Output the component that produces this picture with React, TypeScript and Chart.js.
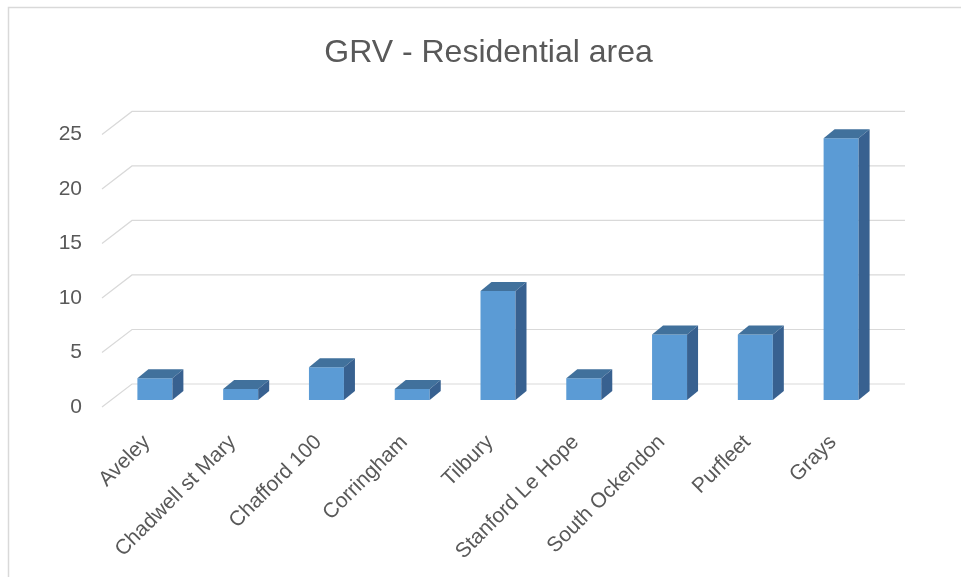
import React, { useEffect, useRef } from "react";
import { Chart, registerables } from "chart.js";

Chart.register(...registerables);

const categories = [
  "Aveley",
  "Chadwell st Mary",
  "Chafford 100",
  "Corringham",
  "Tilbury",
  "Stanford Le Hope",
  "South Ockendon",
  "Purfleet",
  "Grays",
];
const values = [2, 1, 3, 1, 10, 2, 6, 6, 24];
const yTicks = [0, 5, 10, 15, 20, 25];
const titleText = "GRV - Residential area";

const FONT = "'Liberation Sans', Arial, sans-serif";
const TEXT = "#595959";
const GRID = "#d9d9d9";
const FRONT = "#5b9bd5";
const TOP = "#41719c";
const SIDE = "#386190";

const DEPTH_X = 11;
const DEPTH_Y = -9;
const WALL_X = 30;
const WALL_Y = -16;
const FLOOR_Y = 7;

const framePlugin = {
  id: "frame",
  beforeDraw(chart: any) {
    const ctx = chart.ctx;
    ctx.save();
    ctx.strokeStyle = GRID;
    ctx.lineWidth = 1.5;
    ctx.beginPath();
    ctx.moveTo(8.5, chart.height);
    ctx.lineTo(8.5, 7.5);
    ctx.lineTo(chart.width, 7.5);
    ctx.stroke();
    ctx.restore();
  },
};

const wallPlugin = {
  id: "wall",
  beforeDatasetsDraw(chart: any) {
    const ctx = chart.ctx;
    const y = chart.scales.y;
    const area = chart.chartArea;
    const frontLeft = area.left - 10;
    const backRight = area.right + 21;
    ctx.save();
    ctx.strokeStyle = GRID;
    ctx.lineWidth = 1.2;
    yTicks.forEach((v) => {
      const py = y.getPixelForValue(v);
      ctx.beginPath();
      ctx.moveTo(frontLeft, py + FLOOR_Y);
      ctx.lineTo(frontLeft + WALL_X, py + WALL_Y);
      ctx.lineTo(backRight, py + WALL_Y);
      ctx.stroke();
    });
    ctx.restore();
  },
};

const boxPlugin = {
  id: "box3d",
  afterDatasetsDraw(chart: any) {
    const ctx = chart.ctx;
    const meta = chart.getDatasetMeta(0);
    ctx.save();
    meta.data.forEach((el: any) => {
      const p = el.getProps(["x", "y", "base", "width"], true);
      const l = p.x - p.width / 2;
      const r = p.x + p.width / 2;
      const top = Math.min(p.y, p.base);
      const bot = Math.max(p.y, p.base);
      ctx.fillStyle = TOP;
      ctx.beginPath();
      ctx.moveTo(l, top);
      ctx.lineTo(l + DEPTH_X, top + DEPTH_Y);
      ctx.lineTo(r + DEPTH_X, top + DEPTH_Y);
      ctx.lineTo(r, top);
      ctx.closePath();
      ctx.fill();
      ctx.fillStyle = SIDE;
      ctx.beginPath();
      ctx.moveTo(r, top);
      ctx.lineTo(r + DEPTH_X, top + DEPTH_Y);
      ctx.lineTo(r + DEPTH_X, bot + DEPTH_Y);
      ctx.lineTo(r, bot);
      ctx.closePath();
      ctx.fill();
    });
    ctx.restore();
  },
};

export default function App() {
  const ref = useRef<HTMLCanvasElement | null>(null);

  useEffect(() => {
    if (!ref.current) return;
    const chart = new Chart(ref.current, {
      type: "bar",
      data: {
        labels: categories,
        datasets: [
          {
            label: "GRV",
            data: values,
            backgroundColor: FRONT,
            borderWidth: 0,
            barPercentage: 0.408,
            categoryPercentage: 1,
            clip: false as any,
          },
        ],
      },
      options: {
        animation: false,
        responsive: true,
        maintainAspectRatio: false,
        layout: { padding: { left: 16, right: 0, top: 0, bottom: 0 } },
        plugins: {
          legend: { display: false },
          tooltip: { enabled: false },
          title: {
            display: true,
            text: titleText,
            color: TEXT,
            font: { family: FONT, size: 32, weight: "normal" },
            padding: { top: 34, bottom: 55 },
          },
        },
        scales: {
          x: {
            grid: { display: false, drawTicks: false },
            border: { display: false },
            ticks: {
              color: TEXT,
              font: { family: FONT, size: 21 },
              minRotation: 45,
              maxRotation: 45,
              autoSkip: false,
              padding: 30,
              labelOffset: -8,
            },
            afterFit(scale: any) {
              scale.height = 177;
            },
          },
          y: {
            min: 0,
            max: 25,
            grid: { display: false, drawTicks: false },
            border: { display: false },
            ticks: {
              stepSize: 5,
              color: TEXT,
              font: { family: FONT, size: 21 },
              padding: 30,
              labelOffset: 7,
            },
            afterFit(scale: any) {
              scale.width = 96;
            },
          },
          yRight: {
            type: "linear",
            position: "right",
            grid: { display: false, drawTicks: false },
            border: { display: false },
            ticks: { display: false },
            afterFit(scale: any) {
              scale.width = 77;
            },
          },
        },
      },
      plugins: [framePlugin, wallPlugin, boxPlugin],
    });
    return () => chart.destroy();
  }, []);

  return (
    <div
      style={{
        position: "fixed",
        left: 0,
        top: 0,
        width: 961,
        height: 577,
        background: "#ffffff",
      }}
    >
      <canvas ref={ref} />
    </div>
  );
}
